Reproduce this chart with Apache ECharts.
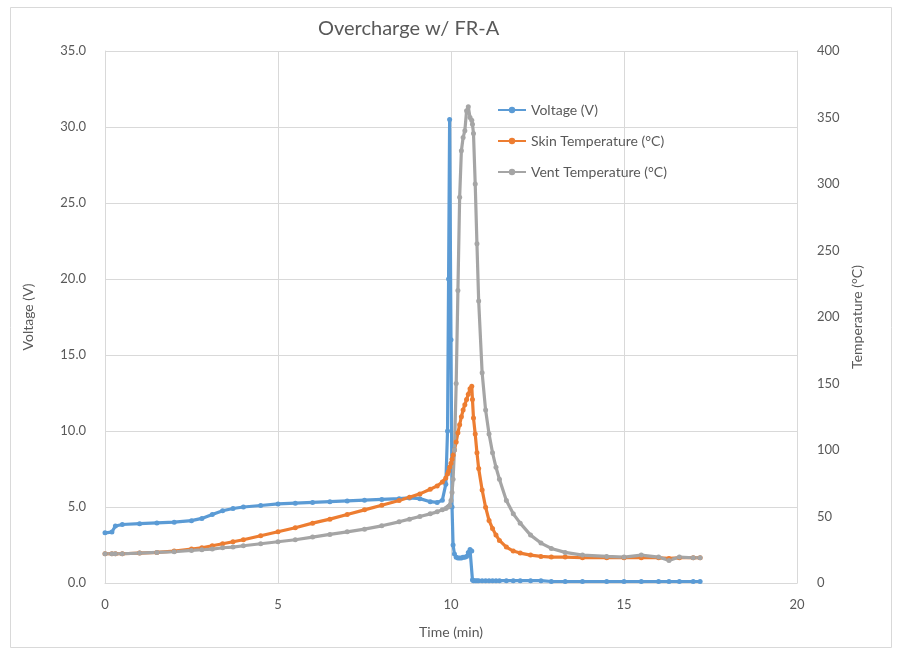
<!DOCTYPE html>
<html>
<head>
<meta charset="utf-8">
<script src="https://cdn.jsdelivr.net/npm/echarts@6/dist/echarts.min.js"></script>
<style>
html,body{margin:0;padding:0;background:#fff;}
#chart{width:897px;height:653px;}
</style>
</head>
<body>
<div id="chart"></div>
<script>
// ---- data ----
const timeMin = [0, 0.2, 0.3, 0.5, 1, 1.5, 2, 2.5, 2.8, 3.1, 3.4, 3.7, 4, 4.5, 5, 5.5, 6, 6.5, 7, 7.5, 8, 8.5, 8.8, 9.1, 9.4, 9.6, 9.75, 9.85, 9.9, 9.93, 9.96, 10.0, 10.03, 10.06, 10.1, 10.15, 10.2, 10.25, 10.3, 10.35, 10.4, 10.45, 10.5, 10.55, 10.6, 10.62, 10.65, 10.7, 10.75, 10.8, 10.9, 11.0, 11.1, 11.2, 11.3, 11.4, 11.6, 11.8, 12.0, 12.3, 12.6, 12.9, 13.3, 13.8, 14.5, 15, 15.5, 16, 16.3, 16.6, 17, 17.2];

const voltage = [3.3, 3.35, 3.75, 3.85, 3.9, 3.95, 4.0, 4.1, 4.25, 4.5, 4.75, 4.9, 5.0, 5.1, 5.2, 5.25, 5.3, 5.35, 5.4, 5.45, 5.5, 5.55, 5.6, 5.55, 5.35, 5.3, 5.45, 6.5, 10.0, 20.0, 30.5, 16.0, 5.0, 2.5, 1.9, 1.7, 1.65, 1.65, 1.65, 1.7, 1.7, 1.75, 2.0, 2.2, 2.1, 0.2, 0.15, 0.15, 0.15, 0.15, 0.15, 0.15, 0.15, 0.15, 0.15, 0.15, 0.15, 0.15, 0.15, 0.15, 0.15, 0.1, 0.1, 0.1, 0.1, 0.1, 0.1, 0.1, 0.1, 0.1, 0.1, 0.1];

const skinTemp = [22, 22, 22, 22, 22.5, 23, 24, 25.5, 26.5, 28, 29.5, 31, 32.5, 35.5, 38.5, 41.5, 45, 48, 51.5, 55, 58.5, 62, 64.5, 67, 70.5, 73, 76, 79, 82, 84, 87, 90, 93, 96, 100, 106, 113, 119, 125, 130, 134, 138, 142, 146, 148, 138, 124, 112, 98, 86, 70, 57, 47, 41, 36, 32, 27, 24, 22.5, 21, 20, 19.5, 19.5, 19, 19, 19, 19, 19, 18.5, 19, 19, 19];

const ventTemp = [22, 22, 22, 22, 22.5, 23, 23.5, 24.5, 25, 25.5, 26.5, 27, 28, 29.5, 31, 32.5, 34.5, 36.5, 38.5, 40.5, 43, 46, 48, 50, 52, 53.5, 55, 56, 57, 57.5, 58, 62, 68, 78, 100, 150, 220, 290, 325, 335, 340, 355, 358, 350, 348, 345, 338, 300, 255, 212, 158, 130, 112, 98, 87, 78, 62, 52, 45, 36, 30, 26, 23, 21, 20, 19.5, 21, 19.5, 17, 19.5, 19, 19];

const xTicks = [0, 5, 10, 15, 20];
const seriesNames = ['Voltage (V)', 'Skin Temperature (°C)', 'Vent Temperature (°C)'];
// ------------------------------------------------

function pairs(vals) { return timeMin.map((t, i) => [t, vals[i]]); }

const FONT = 'Lato, "Open Sans", sans-serif';
const TXT = '#595959';
const GRID = '#d9d9d9';
const colors = ['#5B9BD5', '#ED7D31', '#A5A5A5'];

function lineSeries(i, axis, vals) {
  return {
    name: seriesNames[i], type: 'line', yAxisIndex: axis, data: pairs(vals),
    color: colors[i], symbol: 'circle', symbolSize: 5, showSymbol: true,
    lineStyle: {width: 3.2, color: colors[i]}, itemStyle: {color: colors[i]}
  };
}

const chart = echarts.init(document.getElementById('chart'), null, {renderer: 'canvas'});
chart.setOption({
  backgroundColor: '#ffffff',
  animation: false,
  textStyle: {fontFamily: FONT},
  graphic: [{
    type: 'rect', left: 8, top: 5, z: -10, silent: true,
    shape: {width: 881, height: 640},
    style: {fill: 'none', stroke: GRID, lineWidth: 1}
  }],
  title: {
    text: 'Overcharge w/ FR-A',
    left: 313, top: 14,
    textStyle: {fontFamily: FONT, fontSize: 20, fontWeight: 'normal', color: TXT}
  },
  legend: {
    orient: 'vertical',
    left: 492, top: 98,
    itemWidth: 28, itemHeight: 8, itemGap: 17,
    textStyle: {fontFamily: FONT, fontSize: 14, color: TXT},
    data: seriesNames
  },
  grid: {left: 105, right: 100, top: 51, bottom: 70, containLabel: false},
  xAxis: {
    type: 'value', min: xTicks[0], max: xTicks[xTicks.length - 1], interval: 5,
    name: 'Time (min)', nameLocation: 'middle', nameGap: 42,
    nameTextStyle: {fontFamily: FONT, fontSize: 14, color: TXT},
    axisLine: {show: true, lineStyle: {color: GRID}},
    axisTick: {show: false},
    axisLabel: {color: TXT, fontSize: 13, fontFamily: FONT, margin: 15},
    splitLine: {show: true, lineStyle: {color: GRID}}
  },
  yAxis: [{
    type: 'value', min: 0, max: 35, interval: 5,
    name: 'Voltage (V)', nameLocation: 'middle', nameGap: 70,
    nameTextStyle: {fontFamily: FONT, fontSize: 14, color: TXT},
    axisLine: {show: true, lineStyle: {color: GRID}},
    axisTick: {show: false},
    axisLabel: {color: TXT, fontSize: 13, fontFamily: FONT, margin: 19, formatter: v => v.toFixed(1)},
    splitLine: {show: true, lineStyle: {color: GRID}}
  }, {
    type: 'value', min: 0, max: 400, interval: 50,
    name: 'Temperature (°C)', nameLocation: 'middle', nameGap: 52, nameRotate: 90,
    nameTextStyle: {fontFamily: FONT, fontSize: 14, color: TXT},
    axisLine: {show: true, lineStyle: {color: GRID}},
    axisTick: {show: false},
    axisLabel: {color: TXT, fontSize: 13, fontFamily: FONT, margin: 20},
    splitLine: {show: false}
  }],
  series: [
    lineSeries(0, 0, voltage),
    lineSeries(1, 1, skinTemp),
    lineSeries(2, 1, ventTemp)
  ]
});
</script>
</body>
</html>
